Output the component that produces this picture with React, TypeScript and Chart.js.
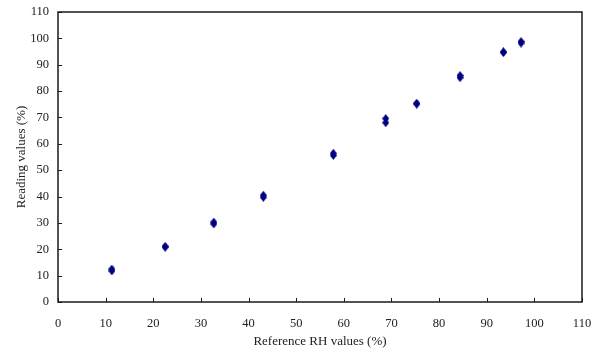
import React, { useEffect, useRef } from "react";
import { Chart, registerables } from "chart.js";

Chart.register(...registerables);

const refRH = [11.3, 22.5, 32.7, 43.1, 57.8, 68.8, 75.3, 84.4, 93.5, 97.2];
const readingA = [11.8, 20.8, 29.6, 39.7, 55.6, 68.0, 75.1, 85.1, 94.6, 98.2];
const readingB = [12.5, 21.1, 30.3, 40.5, 56.4, 69.6, 75.4, 85.9, 94.9, 98.8];
const tickValues = [0, 10, 20, 30, 40, 50, 60, 70, 80, 90, 100, 110];

const FONT = "'Liberation Serif', 'Times New Roman', serif";
const MARK = "#000080";

function makeDiamond(): HTMLCanvasElement {
  const c = document.createElement("canvas");
  c.width = 7;
  c.height = 9;
  const g = c.getContext("2d")!;
  g.fillStyle = MARK;
  g.beginPath();
  g.moveTo(3.5, 0);
  g.lineTo(7, 4.5);
  g.lineTo(3.5, 9);
  g.lineTo(0, 4.5);
  g.closePath();
  g.fill();
  return c;
}

const framePlugin = {
  id: "frame",
  afterDraw(chart: any) {
    const { ctx, chartArea } = chart;
    const { left, right, top, bottom } = chartArea;
    const xs = chart.scales.x;
    const ys = chart.scales.y;
    ctx.save();
    ctx.strokeStyle = "#1a1a1a";
    ctx.lineWidth = 1.5;
    ctx.strokeRect(left, top, right - left, bottom - top);
    ctx.lineWidth = 1;
    ctx.beginPath();
    tickValues.forEach((v) => {
      const px = Math.round(xs.getPixelForValue(v)) + 0.5;
      ctx.moveTo(px, bottom);
      ctx.lineTo(px, bottom - 4);
      const py = Math.round(ys.getPixelForValue(v)) + 0.5;
      ctx.moveTo(left, py);
      ctx.lineTo(left + 4, py);
    });
    ctx.stroke();
    ctx.restore();
  },
};

export default function App() {
  const ref = useRef<HTMLCanvasElement>(null);
  useEffect(() => {
    const diamond = makeDiamond();
    const toPts = (ys: number[]) => refRH.map((x, i) => ({ x, y: ys[i] }));
    const chart = new Chart(ref.current!, {
      type: "scatter",
      data: {
        datasets: [
          { data: toPts(readingA), pointStyle: diamond as any, backgroundColor: MARK, borderColor: MARK },
          { data: toPts(readingB), pointStyle: diamond as any, backgroundColor: MARK, borderColor: MARK },
        ],
      },
      options: {
        animation: false,
        responsive: false,
        layout: { padding: { top: 12, right: 18, left: 0, bottom: 0 } },
        plugins: { legend: { display: false }, tooltip: { enabled: false } },
        scales: {
          x: {
            type: "linear",
            min: 0,
            max: 110,
            afterFit: (s: any) => {
              s.height = 50;
              s.paddingLeft = 0;
              s.paddingRight = 0;
            },
            afterBuildTicks: (s: any) => { s.ticks = tickValues.map((v) => ({ value: v })); },
            grid: { display: false, drawTicks: false },
            border: { display: false },
            ticks: { padding: 14, color: "#222", font: { family: FONT, size: 12.5 } },
            title: {
              display: true,
              text: "Reference RH values (%)",
              color: "#222",
              font: { family: FONT, size: 13 },
              padding: { top: 0, bottom: 3 },
            },
          },
          y: {
            type: "linear",
            min: 0,
            max: 110,
            afterFit: (s: any) => {
              s.width = 58;
              s.paddingTop = 0;
              s.paddingBottom = 0;
            },
            afterBuildTicks: (s: any) => { s.ticks = tickValues.map((v) => ({ value: v })); },
            grid: { display: false, drawTicks: false },
            border: { display: false },
            ticks: { padding: 9, color: "#222", font: { family: FONT, size: 12.5 } },
            title: {
              display: true,
              text: "Reading values (%)",
              color: "#222",
              font: { family: FONT, size: 13 },
              padding: { top: 14, bottom: 0 },
            },
          },
        },
      },
      plugins: [framePlugin],
    });
    return () => chart.destroy();
  }, []);
  return (
    <div style={{ position: "absolute", left: 0, top: 0, width: 600, height: 352, background: "#fff" }}>
      <canvas ref={ref} width={600} height={352} />
    </div>
  );
}
